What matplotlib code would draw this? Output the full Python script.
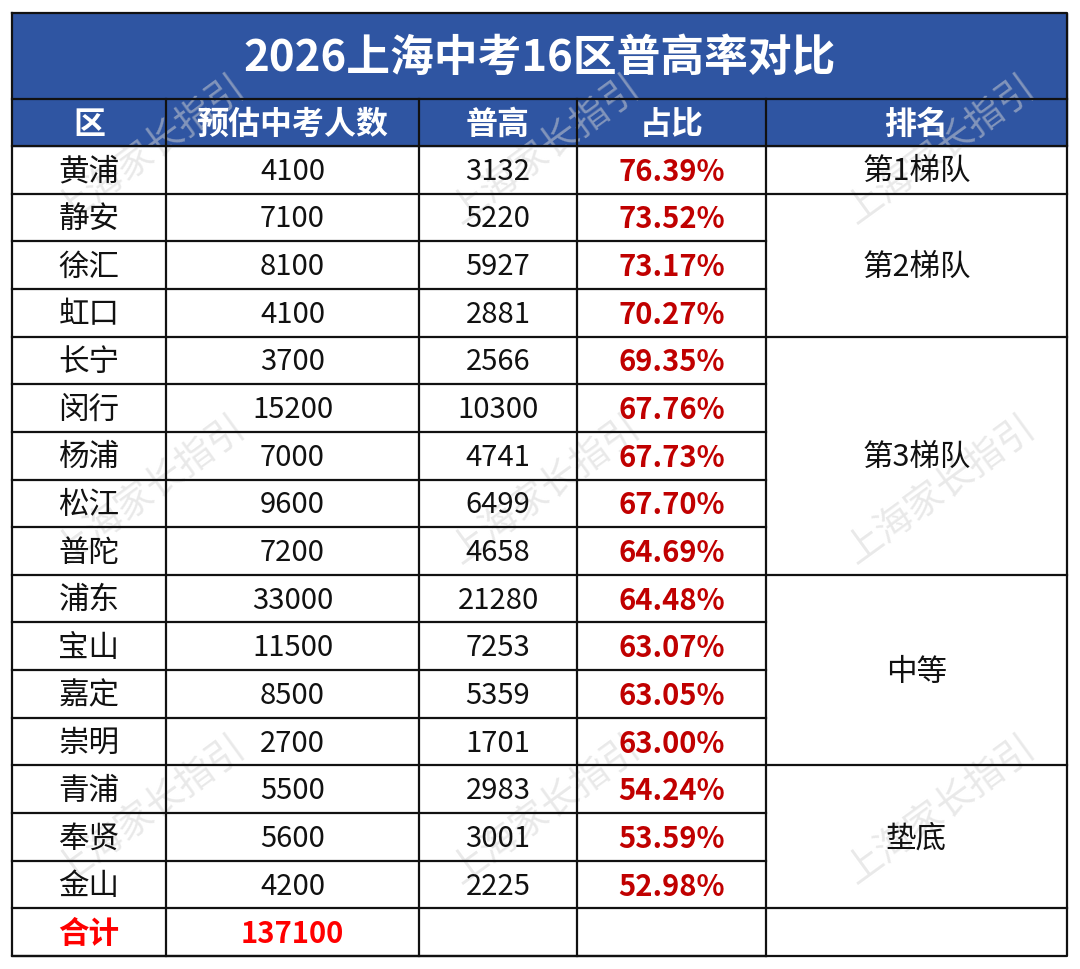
import matplotlib.pyplot as plt
from matplotlib.patches import Rectangle

plt.rcParams['font.family'] = ['Noto Sans CJK SC', 'DejaVu Sans']

title = "2026上海中考16区普高率对比"
headers = ["区", "预估中考人数", "普高", "占比", "排名"]
districts = ["黄浦", "静安", "徐汇", "虹口", "长宁", "闵行", "杨浦", "松江", "普陀",
             "浦东", "宝山", "嘉定", "崇明", "青浦", "奉贤", "金山"]
students = [4100, 7100, 8100, 4100, 3700, 15200, 7000, 9600, 7200,
            33000, 11500, 8500, 2700, 5500, 5600, 4200]
puGao = [3132, 5220, 5927, 2881, 2566, 10300, 4741, 6499, 4658,
         21280, 7253, 5359, 1701, 2983, 3001, 2225]
ratio = ["76.39%", "73.52%", "73.17%", "70.27%", "69.35%", "67.76%", "67.73%", "67.70%",
         "64.69%", "64.48%", "63.07%", "63.05%", "63.00%", "54.24%", "53.59%", "52.98%"]
# tier label, first row, number of rows
tiers = [("第1梯队", 0, 1), ("第2梯队", 1, 3), ("第3梯队", 4, 5), ("中等", 9, 4), ("垫底", 13, 3)]
total_label = "合计"
total_students = 137100
watermark = "上海家长指引"

W, H = 1080, 969
fig = plt.figure(figsize=(W / 100, H / 100), dpi=100)
ax = fig.add_axes([0, 0, 1, 1])
ax.set_xlim(0, W)
ax.set_ylim(H, 0)
ax.axis('off')

cols = [12, 166, 419, 577, 766, 1067]
top, title_bot, head_bot, bottom = 13, 99, 146, 956
n_rows = len(districts) + 1
rh = (bottom - head_bot) / n_rows
blue = '#2F55A2'
lw = 1.6
fs_cn, fs_num = 22, 21
dy = 2  # text sits a touch below the cell middle

# title + header background
ax.add_patch(Rectangle((cols[0], top), cols[-1] - cols[0], head_bot - top, color=blue, zorder=1))
ax.text((cols[0] + cols[-1]) / 2, (top + title_bot) / 2 + 2, title, color='white',
        fontsize=31.5, fontweight='bold', ha='center', va='center', zorder=5)
for i, h in enumerate(headers):
    ax.text((cols[i] + cols[i + 1]) / 2, (title_bot + head_bot) / 2 + dy, h, color='white',
            fontsize=23, fontweight='bold', ha='center', va='center', zorder=5)

# watermarks
for wx in [150, 545, 940]:
    for wy in [150, 490, 810]:
        ax.text(wx, wy, watermark, color='#d4d4d4', fontsize=27, rotation=36,
                ha='center', va='center', alpha=0.5, zorder=2)

def row_y(r):
    return head_bot + rh * r

# data rows
for r in range(len(districts)):
    yc = row_y(r) + rh / 2 + dy
    ax.text((cols[0] + cols[1]) / 2, yc, districts[r], fontsize=fs_cn, ha='center',
            va='center', color='#111111', zorder=5)
    for c, v in [(1, students[r]), (2, puGao[r])]:
        ax.text((cols[c] + cols[c + 1]) / 2, yc, str(v), fontsize=fs_num, ha='center',
                va='center', color='#111111', zorder=5)
    ax.text((cols[3] + cols[4]) / 2, yc, ratio[r], fontsize=fs_num, fontweight='bold',
            ha='center', va='center', color='#C00000', zorder=5)

for name, start, n in tiers:
    yc = row_y(start) + rh * n / 2 + dy
    ax.text((cols[4] + cols[5]) / 2, yc, name, fontsize=fs_cn, ha='center', va='center',
            color='#111111', zorder=5)

yc = row_y(len(districts)) + rh / 2 + dy
ax.text((cols[0] + cols[1]) / 2, yc, total_label, fontsize=fs_cn, fontweight='bold',
        ha='center', va='center', color='#FF0000', zorder=5)
ax.text((cols[1] + cols[2]) / 2, yc, str(total_students), fontsize=fs_num, fontweight='bold',
        ha='center', va='center', color='#FF0000', zorder=5)

# grid lines
k = dict(color='#111111', lw=lw, zorder=4)
ax.plot([cols[0], cols[-1], cols[-1], cols[0], cols[0]], [top, top, bottom, bottom, top], **k)
ax.plot([cols[0], cols[-1]], [title_bot, title_bot], **k)
for x in cols[1:-1]:
    ax.plot([x, x], [title_bot, bottom], **k)
tier_breaks = {s for _, s, _ in tiers} | {len(districts)}
for r in range(n_rows + 1):
    y = row_y(r)
    x_end = cols[-1] if r in tier_breaks or r == 0 else cols[4]
    ax.plot([cols[0], x_end], [y, y], **k)

fig.savefig('out.png', dpi=100, facecolor='white')
